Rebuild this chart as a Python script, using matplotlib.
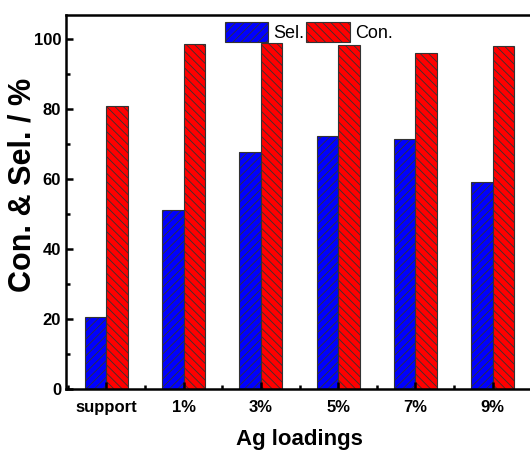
import matplotlib
matplotlib.use('Agg')
import matplotlib.pyplot as plt
import numpy as np
from matplotlib.ticker import MultipleLocator

plt.rcParams['font.family'] = ['Liberation Sans', 'DejaVu Sans']
plt.rcParams['hatch.linewidth'] = 0.6

# data
loadings = ['support', '1%', '3%', '5%', '7%', '9%']
sel = [20.6, 51.3, 67.7, 72.4, 71.4, 59.3]
con = [80.9, 98.7, 98.8, 98.2, 96.1, 97.9]

x = np.arange(len(loadings))
w = 0.277

fig = plt.figure(figsize=(5.3, 4.55), dpi=100)
ax = fig.add_axes([66 / 530, 66 / 455, 467 / 530, 374 / 455])

ax.bar(x - w / 2, sel, w, color='#0000ff', edgecolor='#333333', linewidth=0.8,
       hatch='////', label='Sel.')
ax.bar(x + w / 2, con, w, color='#ff0000', edgecolor='#333333', linewidth=0.8,
       hatch='\\\\\\\\', label='Con.')

ax.set_xlim(-0.52, 5.52)
ax.set_ylim(0, 106.9)
ax.set_xticks(x)
ax.set_xticklabels(loadings)
ax.xaxis.set_minor_locator(MultipleLocator(0.5))
ax.yaxis.set_major_locator(MultipleLocator(20))
ax.yaxis.set_minor_locator(MultipleLocator(10))

ax.tick_params(which='both', direction='in', width=1.8, top=False, right=False,
               labelsize=12)
ax.tick_params(which='major', length=5)
ax.tick_params(which='minor', length=3)
for lab in ax.get_xticklabels() + ax.get_yticklabels():
    lab.set_fontweight('bold')
ax.tick_params(axis='x', pad=8)
for s in ax.spines.values():
    s.set_linewidth(1.8)

ax.set_xlabel('Ag loadings', fontsize=16, fontweight='bold', labelpad=10)
ax.set_ylabel('Con. & Sel. / %', fontsize=22, fontweight='bold')
ax.yaxis.set_label_coords(-0.062, 0.545)

ax.legend(loc='upper center', bbox_to_anchor=(0.52, 1.0), ncol=2, frameon=False,
          fontsize=13, handlelength=2.4, handleheight=1.3, columnspacing=0.1,
          handletextpad=0.3, borderaxespad=0.0)

fig.savefig('out.png', dpi=100)
